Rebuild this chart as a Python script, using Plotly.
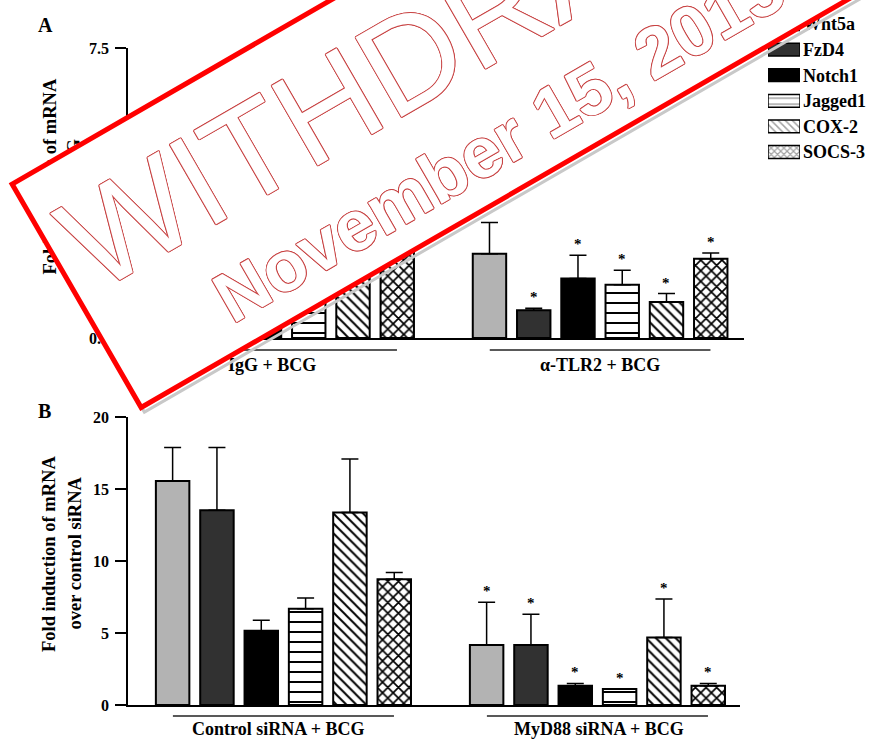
import math
import plotly.graph_objects as go

FIG_W, FIG_H = 870, 739

# ---------------- data ----------------
genes = ["Wnt5a", "FzD4", "Notch1", "Jagged1", "COX-2", "SOCS-3"]
groups_a = ["IgG + BCG", "α-TLR2 + BCG"]
groups_b = ["Control siRNA + BCG", "MyD88 siRNA + BCG"]

a_igg_mean = [4.6, 4.1, 3.3, 3.9, 5.0, 5.8]
a_igg_err = [0.9, 0.8, 0.5, 0.6, 1.0, 0.4]
a_tlr2_mean = [2.18, 0.72, 1.54, 1.38, 0.93, 2.05]
a_tlr2_err = [0.81, 0.05, 0.60, 0.37, 0.22, 0.15]
a_tlr2_sig = [0, 1, 1, 1, 1, 1]

b_ctrl_mean = [15.56, 13.52, 5.16, 6.69, 13.36, 8.73]
b_ctrl_err = [2.33, 4.37, 0.72, 0.74, 3.72, 0.48]
b_myd_mean = [4.17, 4.17, 1.34, 1.11, 4.68, 1.34]
b_myd_err = [2.96, 2.13, 0.16, 0.0, 2.68, 0.16]
b_myd_sig = [1, 1, 1, 1, 1, 1]

a_yticks = [0, 2.5, 5.0, 7.5]
b_yticks = [0, 5, 10, 15, 20]

# ---------------- styles ----------------
SERIF = "Liberation Serif, Times New Roman, serif"
SANS = "Liberation Sans, Arial, sans-serif"
fills = ["#b3b3b3", "#313131", "#000000", "white", "white", "white"]
pat_shape = ["", "", "", "-", "\\", "x"]
pat_size = [8, 8, 8, 10, 7, 7.5]
pat_solid = [0.3, 0.3, 0.3, 0.2, 0.28, 0.4]
BARGAP, GROUPGAP = 0.153, 0.245


def px_x(px):
    return px / FIG_W


def px_y(py):
    return 1 - py / FIG_H


fig = go.Figure()


def add_panel(means_0, errs_0, means_1, errs_1, xa, ya):
    for k, g in enumerate(genes):
        marker = dict(color=fills[k], line=dict(color="black", width=2))
        if pat_shape[k]:
            marker["pattern"] = dict(shape=pat_shape[k], fgcolor="black", bgcolor="white",
                                     size=pat_size[k], solidity=pat_solid[k], fillmode="replace")
        fig.add_trace(go.Bar(
            x=[0, 1], y=[means_0[k], means_1[k]], name=g,
            error_y=dict(type="data", array=[errs_0[k], errs_1[k]], arrayminus=[0, 0],
                         symmetric=False, color="black", thickness=1.5, width=8.5),
            marker=marker, xaxis=xa, yaxis=ya, showlegend=False))


add_panel(a_igg_mean, a_igg_err, a_tlr2_mean, a_tlr2_err, "x", "y")
add_panel(b_ctrl_mean, b_ctrl_err, b_myd_mean, b_myd_err, "x2", "y2")

# legend swatches (custom legend drawn as a tiny bar chart)
fig.add_trace(go.Bar(
    y=genes, x=[1] * len(genes), orientation="h", width=0.5,
    marker=dict(color=fills, line=dict(color="black", width=1.5),
                pattern=dict(shape=pat_shape, fgcolor="black", bgcolor=fills,
                             size=[8, 8, 8, 6, 5, 4.5], solidity=[0.3, 0.3, 0.3, 0.25, 0.3, 0.45])),
    xaxis="x3", yaxis="y3", showlegend=False, hoverinfo="skip"))

axis_common = dict(showgrid=False, zeroline=False, showline=True, linecolor="black", linewidth=1.5,
                   automargin=False)
tickfont = dict(family=SERIF, size=16, color="black", weight="bold")

fig.update_layout(
    width=FIG_W, height=FIG_H, margin=dict(l=0, r=0, t=0, b=0, pad=0, autoexpand=False),
    paper_bgcolor="white", plot_bgcolor="white", showlegend=False,
    barmode="group", bargap=BARGAP, bargroupgap=GROUPGAP,
    xaxis=dict(domain=[px_x(128), px_x(744)], range=[-0.506, 1.459], anchor="y",
               showticklabels=False, ticks="", **axis_common),
    yaxis=dict(domain=[px_y(338), px_y(48)], range=[0, 7.5], anchor="x",
               tickvals=a_yticks, tickformat=".1f", ticks="outside", ticklen=11, tickwidth=1.5,
               tickcolor="black", tickfont=tickfont, ticklabelstandoff=3, **axis_common),
    xaxis2=dict(domain=[px_x(128), px_x(740)], range=[-0.495, 1.454], anchor="y2",
                showticklabels=False, ticks="", **axis_common),
    yaxis2=dict(domain=[px_y(705), px_y(417)], range=[0, 20], anchor="x2",
                tickvals=b_yticks, ticks="outside", ticklen=11, tickwidth=1.5,
                tickcolor="black", tickfont=tickfont, ticklabelstandoff=3, **axis_common),
    xaxis3=dict(domain=[px_x(768), px_x(800)], range=[0, 1], anchor="y3",
                visible=False, fixedrange=True, automargin=False),
    yaxis3=dict(domain=[px_y(164.8), px_y(11.2)], type="category", categoryorder="array",
                categoryarray=genes, range=[5.5, -0.5], anchor="x3", side="right",
                showgrid=False, zeroline=False, showline=False, ticks="", automargin=False,
                tickfont=dict(family=SERIF, size=18, color="black", weight="bold"),
                ticklabelstandoff=2),
)

annotations = []
shapes = []

# group labels and underlines
slot = (1 - BARGAP) / len(genes)


def bar_center(gi, k):
    return gi - (1 - BARGAP) / 2 + slot * (k + 0.5)


for xa, names, label_py, line_py, shifts in (
        ("x", groups_a, 365, 350, (-15, 0)),
        ("x2", groups_b, 728.5, 716, (-5, 2))):
    for gi, name in enumerate(names):
        annotations.append(dict(text=name, xref=xa, yref="paper", x=gi, y=px_y(label_py),
                                xanchor="center", yanchor="middle", showarrow=False,
                                xshift=shifts[gi],
                                font=dict(family=SERIF, size=18, color="black", weight="bold")))
        shapes.append(dict(type="line", xref=xa, yref="paper", x0=gi - 0.352, x1=gi + 0.352,
                           y0=px_y(line_py), y1=px_y(line_py), line=dict(color="#222", width=1.5)))

# significance asterisks
for xa, ya, gi, means, errs, sig in (
        ("x", "y", 1, a_tlr2_mean, a_tlr2_err, a_tlr2_sig),
        ("x2", "y2", 1, b_myd_mean, b_myd_err, b_myd_sig)):
    for k in range(len(genes)):
        if sig[k]:
            annotations.append(dict(text="*", xref=xa, yref=ya, x=bar_center(gi, k),
                                    y=means[k] + errs[k], yshift=11, showarrow=False,
                                    xanchor="center", yanchor="middle",
                                    font=dict(family=SERIF, size=15, color="black", weight="bold")))

# y-axis titles (two lines each)
title_font = dict(family=SERIF, size=18.5, color="black", weight="bold")
for text, cx, cy in (("Fold induction of mRNA", 49, 176.5), ("over control IgG", 74, 205),
                     ("Fold induction of mRNA", 49, 554), ("over control siRNA", 74, 553.5)):
    annotations.append(dict(text=text, xref="paper", yref="paper", x=px_x(cx), y=px_y(cy),
                            textangle=-90, xanchor="center", yanchor="middle",
                            showarrow=False, font=title_font))

# panel letters
for text, cx, cy in (("A", 45, 25), ("B", 44, 411)):
    annotations.append(dict(text=text, xref="paper", yref="paper", x=px_x(cx), y=px_y(cy),
                            xanchor="center", yanchor="middle", showarrow=False,
                            font=dict(family=SERIF, size=20, color="black", weight="bold")))

# ---------------- WITHDRAWN stamp ----------------
ANG = 30.0
ux, uy = math.cos(math.radians(ANG)), -math.sin(math.radians(ANG))
vx, vy = math.sin(math.radians(ANG)), math.cos(math.radians(ANG))
corner = (12.7, 184.2)
box_len, box_h, bw = 900, 258, 5


def stamp_pt(u, v):
    return corner[0] + u * ux + v * vx, corner[1] + u * uy + v * vy


cxp, cyp = stamp_pt(box_len / 2, box_h / 2 + 5)
annotations.append(dict(text=" ", xref="paper", yref="paper", x=px_x(cxp), y=px_y(cyp),
                        xanchor="center", yanchor="middle", showarrow=False, textangle=-ANG,
                        width=box_len - 3, height=box_h - 3, borderpad=0, borderwidth=3,
                        bordercolor="#c8c8c8", bgcolor="rgba(0,0,0,0)"))
cxp, cyp = stamp_pt(box_len / 2, box_h / 2)
annotations.append(dict(text=" ", xref="paper", yref="paper", x=px_x(cxp), y=px_y(cyp),
                        xanchor="center", yanchor="middle", showarrow=False, textangle=-ANG,
                        width=box_len - bw, height=box_h - bw, borderpad=0, borderwidth=bw,
                        bordercolor="#ff0000", bgcolor="white"))

oc = "#c84444"
outline = ", ".join(f"{dx}px {dy}px 0 {oc}" for dx, dy in
                    ((1, 0), (-1, 0), (0, 1), (0, -1), (0.7, 0.7), (-0.7, 0.7), (0.7, -0.7), (-0.7, -0.7)))
annotations.append(dict(text="WITHDRAWN", xref="paper", yref="paper", x=px_x(437.9), y=px_y(42.75),
                        xanchor="center", yanchor="middle", showarrow=False, textangle=-ANG,
                        font=dict(family=SANS, size=134, color="white", shadow=outline)))
annotations.append(dict(text="November 15, 2013", xref="paper", yref="paper", x=px_x(498.4),
                        y=px_y(142.2), xanchor="center", yanchor="middle", showarrow=False,
                        textangle=-ANG,
                        font=dict(family=SANS, size=71, color="white", weight="bold", shadow=outline)))

fig.update_layout(annotations=annotations, shapes=shapes)
fig.write_html(
    "out.html",
    config={"responsive": False, "displayModeBar": False},
    post_script="document.body.style.margin='0px';document.body.style.overflow='hidden';",
)
